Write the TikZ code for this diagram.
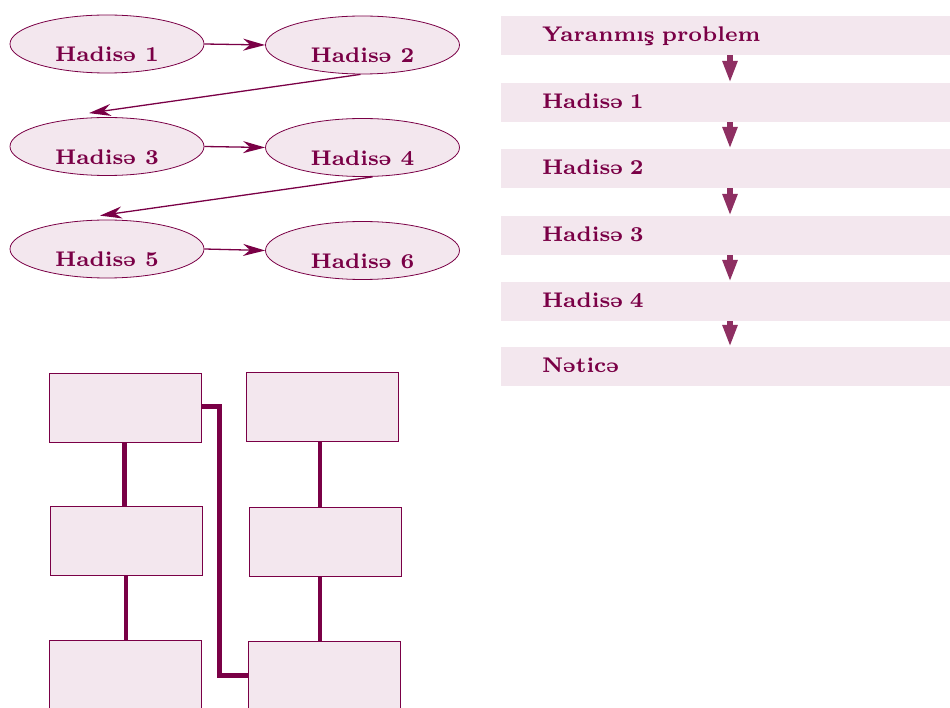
\documentclass[tikz,border=0pt]{standalone}
\usepackage{fontspec}
\newfontfamily\labelfont{lmroman7-bold.otf}
\usetikzlibrary{shapes.geometric,arrows.meta}
\definecolor{plum}{RGB}{122,0,70}
\definecolor{lightplum}{RGB}{243,231,238}
\definecolor{arrowplum}{RGB}{142,47,98}

\begin{document}
\begin{tikzpicture}[x=1pt,y=-1pt,
    txt/.style={font=\labelfont\fontsize{21.2}{25}\selectfont, text=plum},
    event/.style={ellipse, draw=plum, line width=0.8pt, fill=lightplum,
        minimum width=194pt, minimum height=58pt, inner sep=0pt},
    bar/.style={rectangle, fill=lightplum, txt, minimum height=39pt,
        text width=367pt, inner xsep=41pt, inner ysep=0pt, align=left,
        text height=17pt, text depth=4pt},
    box/.style={rectangle, draw=plum, line width=0.8pt, fill=lightplum,
        minimum width=152pt, minimum height=69pt, inner sep=0pt},
    link/.style={draw=plum, line width=1.3pt, -{Stealth[length=22pt,width=12pt,inset=7pt]}},
    step arrow/.style={draw=arrowplum, line width=5.5pt, -{Triangle[length=22pt,width=14pt]}},
    tie/.style={draw=plum, line width=4.5pt}]
    \useasboundingbox (0,0) rectangle (950,708);

    % events
    \node[event, label={[txt,yshift=-10.5pt]center:Hadisə 1}] (e1) at (107,44) {};
    \node[event, label={[txt,yshift=-10.5pt]center:Hadisə 2}] (e2) at (362.5,45) {};
    \node[event, label={[txt,yshift=-10.5pt]center:Hadisə 3}] (e3) at (107,146.5) {};
    \node[event, label={[txt,yshift=-10.5pt]center:Hadisə 4}] (e4) at (362.5,147.5) {};
    \node[event, label={[txt,yshift=-10.5pt]center:Hadisə 5}] (e5) at (107,249) {};
    \node[event, label={[txt,yshift=-10.5pt]center:Hadisə 6}] (e6) at (362.5,250.5) {};

    \draw[link] (e1.east) -- (e2.west);
    \draw[link] ([shift={(-2,0)}]e2.south) -- ([shift={(-18,-4)}]e3.north);
    \draw[link] (e3.east) -- (e4.west);
    \draw[link] ([shift={(10,0)}]e4.south) -- ([shift={(-7,-4)}]e5.north);
    \draw[link] (e5.east) -- (e6.west);

    % steps
    \foreach \i/\y/\t in {1/35.5/Yaranmış problem, 2/102.5/Hadisə 1, 3/168.5/Hadisə 2,
                          4/235.5/Hadisə 3, 5/301.5/Hadisə 4, 6/366.5/Nəticə}
        \node[bar] (b\i) at (725.5,\y) {\t};
    \foreach \i/\j in {1/2,2/3,3/4,4/5,5/6}
        \draw[step arrow] ([xshift=4.5pt]b\i.south) -- ([xshift=4.5pt]b\j.north);

    % empty boxes
    \node[box] (k1) at (125,407.5) {};
    \node[box] (k2) at (322,406.5) {};
    \node[box] (k3) at (126,540.5) {};
    \node[box] (k4) at (325,541.5) {};
    \node[box] (k5) at (125,674.5) {};
    \node[box] (k6) at (324,675.5) {};

    \draw[tie] ([xshift=-0.5pt]k1.south) -- ([xshift=-0.5pt]k1.south |- k3.north);
    \draw[tie] (k3.south) -- (k3.south |- k5.north);
    \draw[tie] ([xshift=-2pt]k2.south) -- ([xshift=-2pt]k2.south |- k4.north);
    \draw[tie] ([xshift=-5pt]k4.south) -- ([xshift=-5pt]k4.south |- k6.north);
    \draw[tie] ([yshift=1pt]k1.east) -- ++(18,0) |- (k6.west);
\end{tikzpicture}
\end{document}
